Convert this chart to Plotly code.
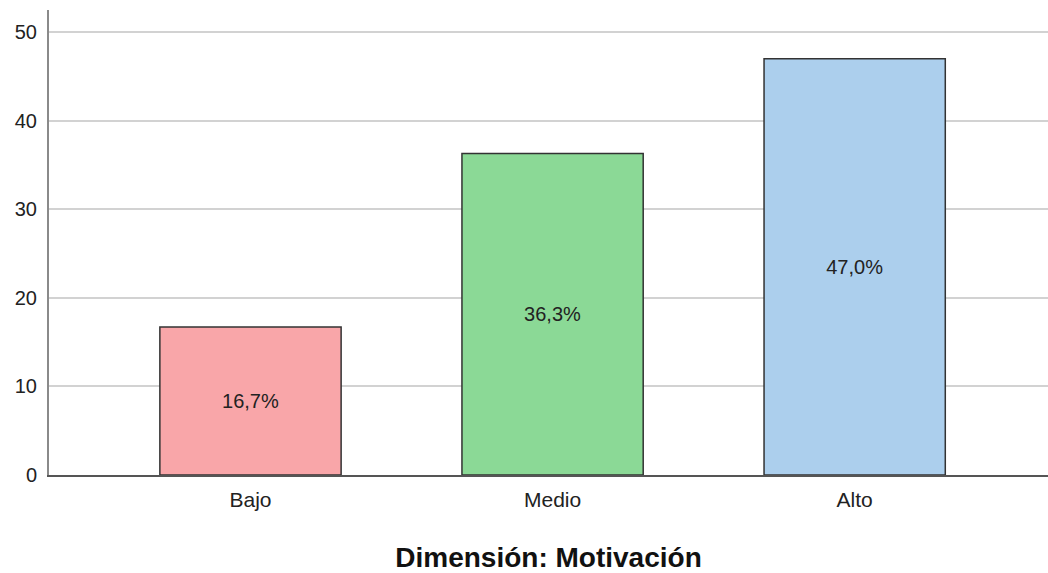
import plotly.graph_objects as go

categories = ["Bajo", "Medio", "Alto"]
values = [16.7, 36.3, 47.0]
labels = ["16,7%", "36,3%", "47,0%"]
colors = ["#f9a6a9", "#8bd996", "#accfed"]
y_ticks = [0, 10, 20, 30, 40, 50]

fig = go.Figure(go.Bar(
    x=categories, y=values, text=labels,
    textposition="inside", insidetextanchor="middle",
    textfont=dict(family="Liberation Sans, Arial", size=20, color="#222222"),
    marker=dict(color=colors, line=dict(color="#333333", width=1.5)),
    width=0.6, cliponaxis=False,
))

fig.update_layout(
    width=1048, height=573,
    margin=dict(l=49, r=0, t=10, b=98),
    paper_bgcolor="white", plot_bgcolor="white",
    showlegend=False,
    font=dict(family="Liberation Sans, Arial", size=21, color="#222222"),
    xaxis=dict(
        range=[-0.667, 2.64], showgrid=False, ticks="",
        showline=True, linecolor="#555555", linewidth=2,
        tickfont=dict(size=21, color="#222222"),
        ticklabelstandoff=5,
        title=dict(text="<b>Dimensión: Motivación</b>",
                   font=dict(size=28, color="#111111"), standoff=37),
    ),
    yaxis=dict(
        range=[0, 52.5], tickvals=y_ticks, ticks="",
        showgrid=True, gridcolor="#d2d2d2", gridwidth=2,
        showline=True, linecolor="#8a8a8a", linewidth=2,
        zeroline=False,
        tickfont=dict(size=20, color="#222222"),
        ticklabelstandoff=6,
    ),
)

fig.write_html("out.html", config={"displayModeBar": False},
               post_script="document.body.style.margin='0';")
